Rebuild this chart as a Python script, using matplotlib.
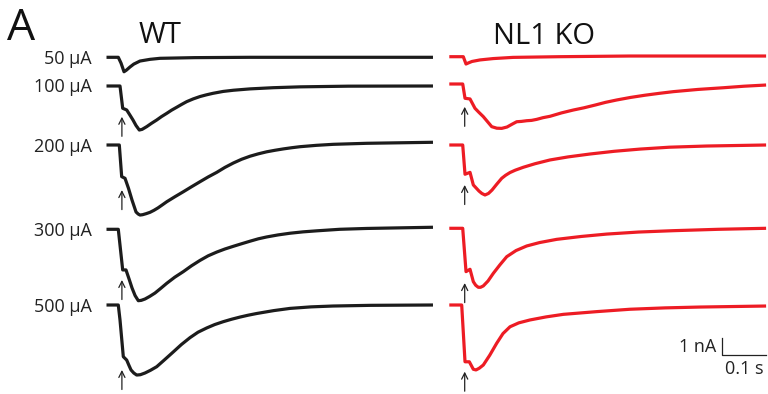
import matplotlib
matplotlib.use("Agg")
import matplotlib.pyplot as plt
import numpy as np

plt.rcParams['font.family'] = ['Open Sans', 'DejaVu Sans']

# ---------------- data (time in ms from trace start, current in nA) -------------
intensities = ["50 µA", "100 µA", "200 µA", "300 µA", "500 µA"]

wt_50_t = [0, 26.8, 33, 39.8, 45, 53.4, 62, 76.1, 98.9, 121.6, 200, 326, 742]
wt_50_i = [0, 0, -0.34, -0.85, -0.76, -0.57, -0.40, -0.22, -0.12, -0.06, -0.02, 0.0, 0.0]

wt_100_t = [0, 30.7, 36.8, 45.9, 53, 60.2, 67, 74.6, 81, 91.4, 102, 114.1, 125,
            136.8, 148, 159.6, 171, 182.3, 197, 212.5, 227, 242.1, 265, 288.2,
            326.2, 379.1, 439.9, 550, 742]
wt_100_i = [0, 0, -1.31, -1.41, -1.7, -2.0, -2.32, -2.59, -2.55, -2.39, -2.2, -2.0,
            -1.8, -1.61, -1.42, -1.25, -1.08, -0.92, -0.76, -0.62, -0.52, -0.43,
            -0.32, -0.25, -0.17, -0.10, -0.05, -0.01, 0.0]

wt_200_t = [0, 29.1, 34.5, 42.1, 50, 58.0, 67.1, 72, 76.1, 82, 90, 98.9, 108, 117,
            127, 136.8, 155, 174.6, 193, 212.5, 231, 250.5, 269, 288.2, 307, 326.2,
            345, 364.1, 383, 401.9, 421, 439.9, 477, 515.5, 591.4, 742]
wt_200_i = [0, 0, -1.86, -1.96, -2.55, -3.24, -3.94, -4.06, -4.12, -4.1, -4.04,
            -3.96, -3.84, -3.7, -3.52, -3.34, -3.05, -2.75, -2.46, -2.16, -1.88,
            -1.61, -1.32, -1.06, -0.84, -0.66, -0.52, -0.40, -0.31, -0.23, -0.16,
            -0.10, -0.02, 0.04, 0.10, 0.16]

wt_300_t = [0, 26.8, 36.8, 44.3, 51, 58.0, 65, 72.3, 79, 87.5, 98, 110.2, 123,
            136.8, 155, 174.6, 193, 212.5, 231, 250.5, 269, 288.2, 307, 326.2, 345,
            364.1, 390, 417.4, 447, 477.8, 530, 591.4, 742]
wt_300_i = [0, 0, -2.39, -2.39, -2.9, -3.45, -3.9, -4.2, -4.18, -4.1, -3.95, -3.75,
            -3.48, -3.18, -2.82, -2.49, -2.15, -1.83, -1.56, -1.34, -1.16, -1.0,
            -0.85, -0.70, -0.56, -0.45, -0.33, -0.23, -0.15, -0.09, 0.0, 0.05, 0.12]

wt_500_t = [0, 26.8, 30.7, 38.2, 45.9, 51, 55.7, 62, 68.6, 77, 87.5, 100, 114.1,
            132, 151.8, 170, 189.8, 208, 227.8, 246, 265.5, 284, 303.4, 322, 341.4,
            380, 417.1, 465, 514.8, 600, 742]
wt_500_i = [0, 0, -0.88, -3.04, -3.24, -3.55, -3.82, -4.0, -4.12, -4.1, -4.0, -3.84,
            -3.63, -3.22, -2.76, -2.33, -1.92, -1.6, -1.35, -1.15, -0.98, -0.84,
            -0.71, -0.6, -0.5, -0.33, -0.2, -0.11, -0.06, -0.02, 0.0]

ko_50_t = [0, 31.8, 38, 44, 51.6, 69.8, 100, 144.8, 250, 410.7, 720]
ko_50_i = [0, 0, -0.43, -0.36, -0.28, -0.19, -0.11, -0.04, 0.0, 0.04, 0.04]

ko_100_t = [0, 30.5, 35.7, 47.1, 58.4, 67, 77.3, 87, 96.4, 108, 119.1, 131.2,
            143, 153.2, 164, 175.9, 187, 198.7, 213, 228.9, 255, 281.9, 306, 331.2,
            355, 380.5, 412, 444.8, 477, 509.2, 565, 622.8, 670, 720]
ko_100_i = [0, 0, -0.84, -0.88, -1.43, -1.66, -1.92, -2.22, -2.51, -2.6, -2.61,
            -2.53, -2.36, -2.22, -2.2, -2.16, -2.14, -2.08, -1.98, -1.9, -1.7,
            -1.53, -1.4, -1.24, -1.08, -0.94, -0.79, -0.66, -0.55, -0.45, -0.32,
            -0.22, -0.13, -0.06]

ko_200_t = [0, 30.5, 35.7, 47.1, 54.6, 67.5, 74, 81.1, 89, 97.1, 108, 119.1, 128,
            138, 150, 168.2, 195, 228.9, 270, 319.8, 375, 433.5, 500, 585.1, 720]
ko_200_i = [0, 0, -1.72, -1.61, -2.35, -2.71, -2.85, -2.94, -2.85, -2.65, -2.3,
            -1.96, -1.78, -1.62, -1.48, -1.31, -1.1, -0.88, -0.7, -0.53, -0.37,
            -0.24, -0.13, -0.06, 0.0]

ko_300_t = [0, 30.5, 38, 47.1, 54.6, 60, 65.9, 71, 77.3, 88, 100, 115, 130.5, 151.6,
            175.9, 205, 244.1, 300, 357.8, 430, 509.2, 610, 720]
ko_300_i = [0, 0, -2.55, -2.41, -3.14, -3.35, -3.47, -3.47, -3.39, -3.1, -2.65,
            -2.15, -1.67, -1.31, -1.04, -0.84, -0.65, -0.48, -0.34, -0.22, -0.14,
            -0.06, 0.0]

ko_500_t = [0, 28.2, 35.7, 45.5, 54.6, 60.7, 68, 77.3, 92, 107.7, 122, 138, 158,
            183.4, 220, 259.1, 335, 410.7, 490, 569.8, 720]
ko_500_i = [0, 0, -3.34, -3.34, -3.78, -3.82, -3.72, -3.53, -2.95, -2.25, -1.68,
            -1.28, -1.05, -0.88, -0.7, -0.55, -0.39, -0.25, -0.17, -0.12, -0.06]

# stimulus arrow: time (ms) and level of the arrow tip (nA) for each trace (None = no arrow)
arrow_t_ms = 35.0
wt_arrow_tip = [None, -1.81, -2.65, -2.98, -3.82]
ko_arrow_tip = [None, -1.34, -2.35, -3.22, -3.92]

wt_traces = [(wt_50_t, wt_50_i), (wt_100_t, wt_100_i), (wt_200_t, wt_200_i),
             (wt_300_t, wt_300_i), (wt_500_t, wt_500_i)]
ko_traces = [(ko_50_t, ko_50_i), (ko_100_t, ko_100_i), (ko_200_t, ko_200_i),
             (ko_300_t, ko_300_i), (ko_500_t, ko_500_i)]

# ---------------- layout ----------------
W, H = 768, 394
PX_PER_S = 440.0
PX_PER_NA = 17.0

def X(px):
    return px / PX_PER_S

def Y(py):
    return -py / PX_PER_NA

fig = plt.figure(figsize=(W / 100, H / 100), dpi=100)
ax = fig.add_axes([0, 0, 1, 1])
ax.set_xlim(0, X(W))
ax.set_ylim(Y(H), 0)
ax.axis('off')

wt_x0, ko_x0 = X(106.5), X(449.3)
wt_base = [Y(57.3), Y(86), Y(145), Y(229.3), Y(305)]
ko_base = [Y(56.7), Y(84), Y(145), Y(228.3), Y(305)]

BLACK = '#1c1c1c'
RED = '#ED1C24'

def draw(traces, x0, bases, tips, color):
    for (t, i), b, tip in zip(traces, bases, tips):
        tt = x0 + np.asarray(t) / 1000.0
        ii = b + np.asarray(i)
        ax.plot(tt, ii, color=color, lw=2.3, solid_joinstyle='round',
                solid_capstyle='butt')
        if tip is not None:
            xa = x0 + arrow_t_ms / 1000.0
            ax.annotate('', xy=(xa, b + tip), xytext=(xa, b + tip - 1.15),
                        arrowprops=dict(arrowstyle='->', lw=0.9, color='#222222',
                                        shrinkA=0, shrinkB=0, mutation_scale=11))

draw(wt_traces, wt_x0, wt_base, wt_arrow_tip, BLACK)
draw(ko_traces, ko_x0, ko_base, ko_arrow_tip, RED)

# intensity labels
for lab, b in zip(intensities, wt_base):
    ax.text(X(92), b - 6.5 / PX_PER_NA, lab, ha='right', va='baseline',
            fontsize=13, color='#222222')

# titles
ax.text(X(7), Y(40), "A", fontsize=32, ha='left', va='baseline', color='#111111')
ax.text(X(160), Y(43), "WT", fontsize=21, ha='center', va='baseline', color='#111111')
ax.text(X(544), Y(44), "NL1 KO", fontsize=21, ha='center', va='baseline', color='#111111')

# scale bar: 1 nA, 0.1 s
sb_x, sb_y = X(722), Y(355)
ax.plot([sb_x, sb_x, sb_x + 0.1], [sb_y + 1.0, sb_y, sb_y], color='#222222', lw=0.9)
ax.text(sb_x - X(6), sb_y + 0.2, "1 nA", ha='right', va='baseline', fontsize=13,
        color='#222222')
ax.text(sb_x + 0.05, Y(374), "0.1 s", ha='center', va='baseline', fontsize=13,
        color='#222222')

fig.savefig("out.png", dpi=100)
